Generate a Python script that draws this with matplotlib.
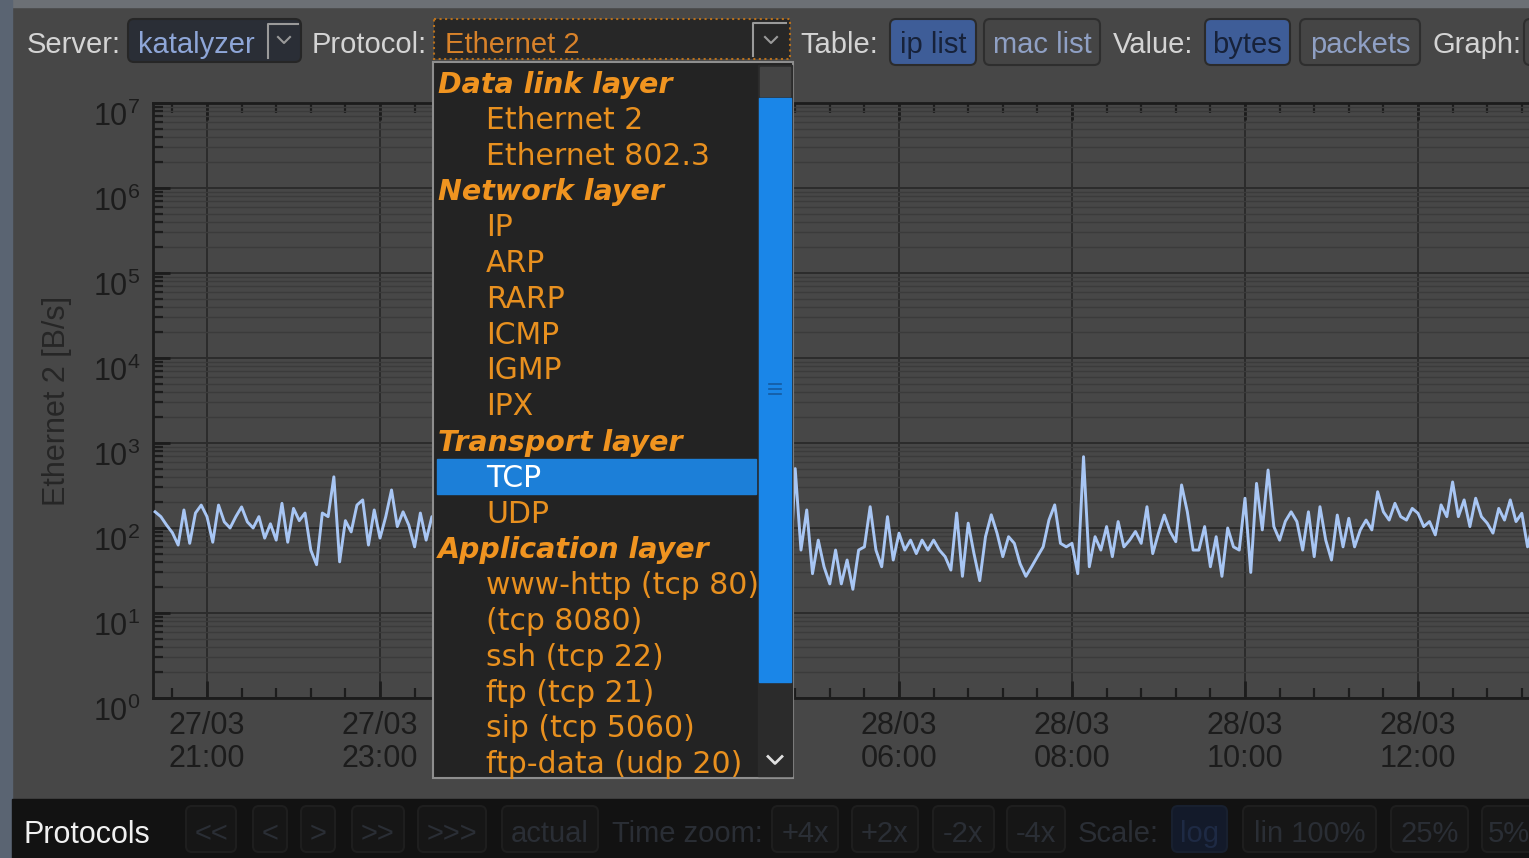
import numpy as np
import matplotlib
matplotlib.use("Agg")
import matplotlib.pyplot as plt
from matplotlib.patches import Rectangle, FancyBboxPatch
from matplotlib.ticker import FixedLocator, MultipleLocator, NullFormatter
from matplotlib.transforms import ScaledTranslation

plt.rcParams['font.family'] = ['Liberation Sans', 'DejaVu Sans']
plt.rcParams['mathtext.fontset'] = 'custom'
plt.rcParams['mathtext.rm'] = 'Liberation Sans'

# traffic samples, one every 4 minutes, first one at 27/03 20:24
t_start = -0.6          # hours after 27/03 21:00
t_step = 4 / 60
ethernet2_bps = [
    155, 136, 108, 88, 63, 163, 66, 150, 186, 136,
    68, 186, 118, 100, 136, 177, 118, 100, 136, 76,
    112, 72, 195, 68, 170, 122, 150, 55, 37, 150,
    136, 400, 40, 122, 90, 186, 214, 63, 163, 76,
    136, 280, 104, 155, 108, 60, 150, 72, 136,
    # behind the drop down list
    120, 95, 150, 80, 130, 110, 175, 90, 140, 105,
    160, 85, 125, 100, 190, 75, 135, 115, 95, 150,
    70, 120, 165, 90, 110, 80, 140, 65, 105, 95,
    130, 60, 85, 115, 70, 100, 55, 90, 75, 120,
    65, 85, 50, 95, 70, 60, 110, 55, 80, 45,
    75, 90, 50, 65, 100, 45, 70, 55, 85, 40,
    60, 22,
    # right of the list
    500, 55, 163, 29, 72, 35, 22, 55, 22, 42,
    19, 55, 60, 178, 55, 35, 136, 42, 87, 55,
    72, 50, 72, 55, 72, 55, 46, 32, 150, 27,
    114, 50, 24, 79, 143, 87, 46, 79, 66, 38,
    27, 35, 46, 60, 124, 187, 66, 60, 66, 29,
    690, 35, 79, 55, 104, 46, 119, 60, 72, 91,
    66, 178, 50, 87, 142, 91, 69, 321, 155, 55,
    55, 104, 35, 79, 27, 100, 60, 55, 224, 30,
    335, 95, 481, 104, 72, 120, 155, 119, 55, 155,
    46, 178, 72, 42, 142, 60, 130, 60, 95, 124,
    95, 267, 155, 124, 195, 136, 124, 170, 149, 104,
    119, 83, 187, 136, 348, 136, 214, 104, 224, 136,
    114, 87, 170, 124, 214, 119, 149, 60, 120,
]

# ticks every 2 h; the two under the open list are not visible
tick_hours = [0, 2, 4, 6, 8, 10, 12, 14]
tick_labels = ["27/03\n21:00", "27/03\n23:00", "", "",
               "28/03\n06:00", "28/03\n08:00", "28/03\n10:00", "28/03\n12:00"]

menu_items = ["Data link layer", "Ethernet 2", "Ethernet 802.3", "Network layer",
              "IP", "ARP", "RARP", "ICMP", "IGMP", "IPX", "Transport layer",
              "TCP", "UDP", "Application layer", "www-http (tcp 80)", "(tcp 8080)",
              "ssh (tcp 22)", "ftp (tcp 21)", "sip (tcp 5060)", "ftp-data (udp 20)"]
menu_headers = ["Data link layer", "Network layer", "Transport layer", "Application layer"]
menu_selected = "TCP"

bottom_buttons = [("<<", 186, 236), ("<", 253, 287), (">", 301, 335), (">>", 352, 404),
                  (">>>", 418, 486), ("actual", 502, 598), ("+4x", 772, 838),
                  ("+2x", 852, 918), ("-2x", 933, 994), ("-4x", 1007, 1065),
                  ("lin 100%", 1243, 1376), ("25%", 1391, 1468), ("5%", 1482, 1536)]

W, H = 1529, 858
BG = '#474747'
fig = plt.figure(figsize=(W / 100, H / 100), dpi=100, facecolor=BG)

bg = fig.add_axes([0, 0, 1, 1], zorder=0)
bg.set_xlim(0, W)
bg.set_ylim(H, 0)
bg.axis('off')
bg.add_patch(Rectangle((0, 0), W, 7, color='#6c7075'))
bg.add_patch(Rectangle((0, 0), 12, H, color='#5a6472'))

# ---- the graph
ax = fig.add_axes([153 / W, (H - 698) / H, (1545 - 153) / W, (698 - 103) / H], zorder=1)
ax.set_facecolor(BG)
t = t_start + t_step * np.arange(len(ethernet2_bps))
ax.plot(t, ethernet2_bps, color='#a8c6f4', lw=2.1, zorder=3)

ax.set_yscale('log')
ax.set_ylim(1, 1e7)
ax.set_xlim((153 - 207) / 86.5, (1545 - 207) / 86.5)
ax.yaxis.set_major_locator(FixedLocator([10.0 ** k for k in range(8)]))
ax.yaxis.set_minor_locator(FixedLocator([m * 10.0 ** k for k in range(7) for m in range(2, 10)]))
ax.yaxis.set_minor_formatter(NullFormatter())
ax.xaxis.set_major_locator(FixedLocator(tick_hours))
ax.xaxis.set_minor_locator(MultipleLocator(0.4))
ax.set_xticklabels(tick_labels, linespacing=1.15)

ax.grid(True, which='major', color='#2c2c2c', lw=1.4)
ax.grid(True, which='minor', axis='y', color='#3b3b3b', lw=1.0)
for s in ['left', 'bottom', 'top']:
    ax.spines[s].set_color('#1c1c1c')
    ax.spines[s].set_linewidth(2)
ax.spines['right'].set_visible(False)
ax.tick_params(which='both', direction='in', color='#1c1c1c', top=True, right=False)
ax.tick_params(which='major', length=12, width=2, labelsize=22, labelcolor='#1c1c1c', pad=9)
ax.tick_params(which='minor', length=7, width=1.6)

for tk in ax.yaxis.get_major_ticks():
    tk.label1.set_transform(tk.label1.get_transform() + ScaledTranslation(0, -0.11, fig.dpi_scale_trans))

fig.text(57 / W, 1 - 401 / H, 'Ethernet 2 [B/s]', rotation=90, ha='center', va='center',
         fontsize=22, color='#262626')

# ---- widgets on top
ui = fig.add_axes([0, 0, 1, 1], zorder=5)
ui.set_xlim(0, W)
ui.set_ylim(H, 0)
ui.axis('off')
ui.patch.set_alpha(0)


def rbox(x0, y0, x1, y1, face, edge, lw=1.5, r=6, **kw):
    ui.add_patch(FancyBboxPatch((x0, y0), x1 - x0, y1 - y0,
                                boxstyle=f"round,pad=0,rounding_size={r}",
                                facecolor=face, edgecolor=edge, lw=lw, **kw))


def chevron(xc, yc, color, s=6, lw=1.5):
    ui.plot([xc - s, xc, xc + s], [yc - s / 2, yc + s / 2, yc - s / 2], color=color, lw=lw)


lab = dict(fontsize=21, color='#d4d4d4', va='baseline')
ui.text(27, 53, 'Server:', **lab)
rbox(128, 19, 301, 62, '#2a2e36', '#262626')
ui.text(138, 53, 'katalyzer', fontsize=21, color='#8ea6d8', va='baseline')
ui.plot([268, 268, 298], [58, 24, 24], color='#9a9a9a', lw=1.5)
chevron(284, 40, '#9a9a9a')

ui.text(312, 53, 'Protocol:', **lab)
ui.add_patch(Rectangle((434, 19), 356, 40, facecolor='#272727', edgecolor='#b8701c',
                       lw=1.5, ls=':'))
ui.text(445, 53, 'Ethernet 2', fontsize=21, color='#d8822a', va='baseline')
ui.plot([753, 753, 786], [56, 23, 23], color='#9a9a9a', lw=1.5)
chevron(771, 40, '#9a9a9a')

ui.text(800, 53, 'Table:', **lab)
rbox(890, 19, 976, 65, '#3e5d98', '#2b2b2b')
ui.text(933, 53, 'ip list', fontsize=21, color='#17223a', va='baseline', ha='center')
rbox(984, 19, 1100, 65, '#454545', '#2e2e2e')
ui.text(1042, 53, 'mac list', fontsize=21, color='#8fa0c4', va='baseline', ha='center')
ui.text(1113, 53, 'Value:', **lab)
rbox(1205, 19, 1290, 65, '#3e5d98', '#2b2b2b')
ui.text(1247, 53, 'bytes', fontsize=21, color='#17223a', va='baseline', ha='center')
rbox(1300, 19, 1420, 65, '#454545', '#2e2e2e')
ui.text(1360, 53, 'packets', fontsize=21, color='#8fa0c4', va='baseline', ha='center')
ui.text(1432, 53, 'Graph:', **lab)
rbox(1524, 19, 1560, 65, '#454545', '#2e2e2e')

# ---- drop down list
ui.add_patch(Rectangle((433, 62), 360, 716, facecolor='#232323', edgecolor='#8e8e8e', lw=1.5))
ui.add_patch(Rectangle((758, 65), 34, 711, color='#2b2b2b'))
ui.add_patch(Rectangle((760, 67), 30, 29, color='#454545'))
ui.add_patch(Rectangle((759, 98), 32, 584, color='#1a86e8'))
for gy in (384, 389, 394):
    ui.plot([769, 781], [gy, gy], color='#145aa0', lw=1.2)
chevron(775, 760, '#e0e0e0', s=7, lw=2)

row0, row_h = 82, 35.8
for k, name in enumerate(menu_items):
    yc = row0 + row_h * k
    if name == menu_selected:
        ui.add_patch(Rectangle((437, yc - 17), 319, 35, color='#1c7fd8'))
    if name in menu_headers:
        ui.text(438, yc + 11, name, fontsize=20.5, family='DejaVu Sans', weight='bold',
                style='italic', color='#f09420', va='baseline')
    else:
        ui.text(486, yc + 11, name, fontsize=21.5, family='DejaVu Sans',
                color='white' if name == menu_selected else '#e8901f', va='baseline')

# ---- bottom tool bar (greyed out while the list is open)
ui.add_patch(Rectangle((12, 799), W, H - 799, color='#121212'))
ui.text(24, 843, 'Protocols', fontsize=22, color='#f0f0f0', va='baseline')
dim = '#2a2e35'
for name, x0, x1 in bottom_buttons:
    rbox(x0, 806, x1, 852, '#161616', '#1e1e1e')
    ui.text((x0 + x1) / 2, 842, name, fontsize=21, color=dim, va='baseline', ha='center')
rbox(1172, 806, 1227, 852, '#131a2a', '#18202f')
ui.text(1199, 842, 'log', fontsize=21, color='#1e2a44', va='baseline', ha='center')
ui.text(612, 842, 'Time zoom:', fontsize=21, color=dim, va='baseline')
ui.text(1078, 842, 'Scale:', fontsize=21, color=dim, va='baseline')

fig.savefig('out.png', dpi=100, facecolor=BG)
